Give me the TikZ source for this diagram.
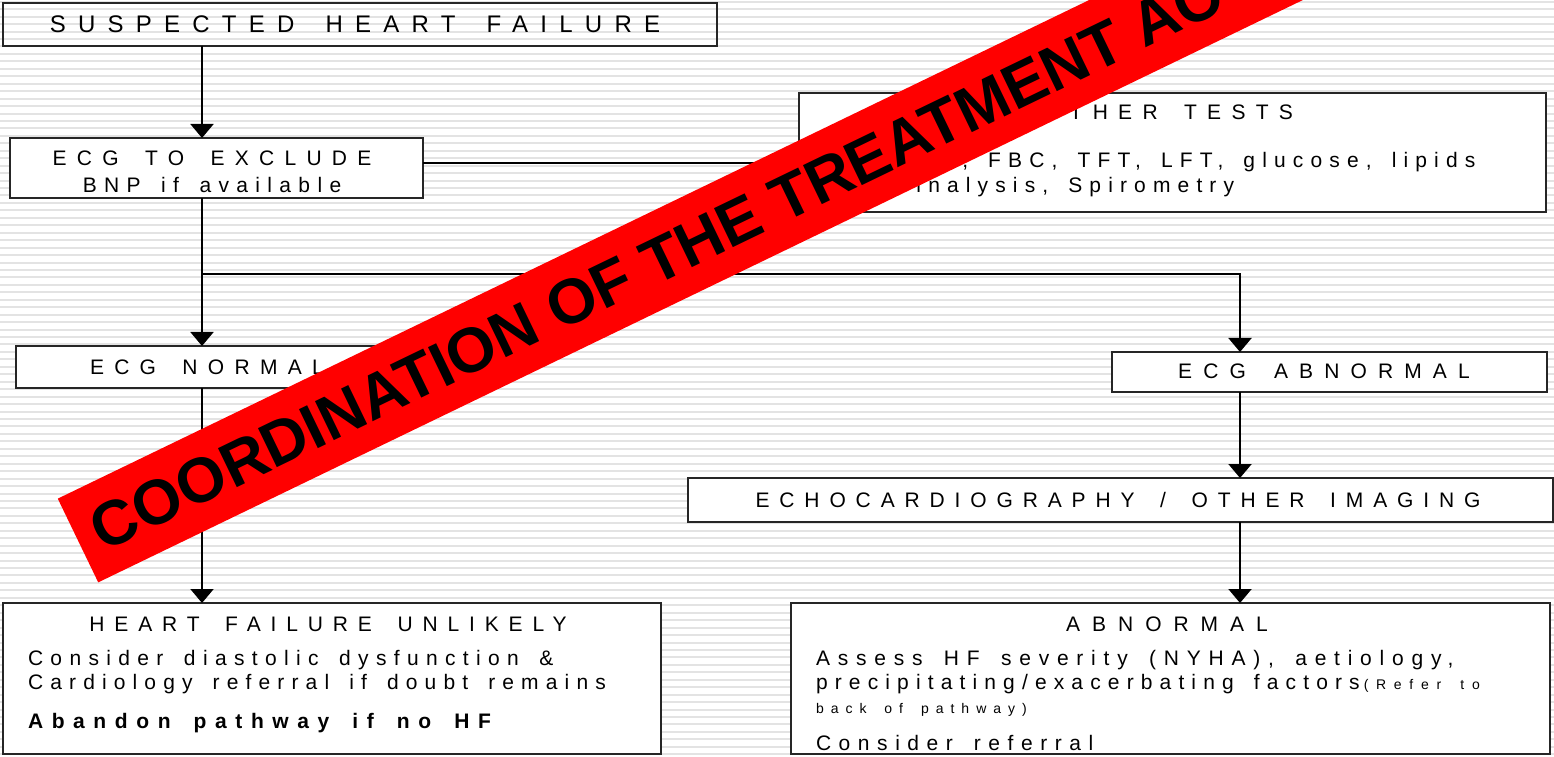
\documentclass[tikz,border=0pt]{standalone}
\usepackage{fontspec}
\setmainfont{Liberation Sans}
\usetikzlibrary{arrows.meta}
\newcommand\LS[2]{{\addfontfeature{LetterSpace=#1}\spaceskip=\dimexpr\fontdimen2\font+#1em/100\relax #2}}
\tikzset{
  box/.style={draw=black!85, line width=1.5pt, fill=white, inner sep=0pt, outer sep=0pt},
  conn/.style={line width=2pt, draw=black},
  arr/.style={conn, -{Triangle[width=23pt,length=14pt]}},
  txt/.style={inner sep=0pt, outer sep=0pt, font=\fontsize{21}{25}\selectfont},
  stripe/.style={line width=2pt, draw=black!11},
}
\begin{document}
\begin{tikzpicture}[x=1pt,y=1pt]
\useasboundingbox (0,0) rectangle (1554,756);
\clip (0,0) rectangle (1554,756);
\fill[white] (0,0) rectangle (1554,756);
\foreach \k in {0,...,101} \draw[stripe] (0,{756-1.8-7.45*\k}) -- (1554,{756-1.8-7.45*\k});

% boxes
\node[box, fill=none, minimum width=714pt, minimum height=43pt] (s) at (360,731.5) {};
\node[txt, anchor=base, font=\fontsize{24}{28}\selectfont] (s1) at (355,723) {\LS{51}{SUSPECTED HEART FAILURE}};

\node[box, minimum width=413pt, minimum height=60pt] (e) at (216.5,588) {};
\node[txt, anchor=base] (e1) at (212,590) {\LS{49}{ECG TO EXCLUDE}};
\node[txt, anchor=base] (e2) at (212,563) {\LS{35}{BNP if available}};

\node[box, minimum width=747pt, minimum height=119pt] (o) at (1172.5,603.5) {};
\node[txt, anchor=base] (o1) at (1168,636.5) {\LS{49}{OTHER TESTS}};
\node[txt, anchor=base west] (o2) at (880,588.5) {\LS{34}{U\&Es, FBC, TFT, LFT, glucose, lipids}};
\node[txt, anchor=base west] (o3) at (880,563.5) {\LS{34}{Urinalysis, Spirometry}};

\node[box, minimum width=388pt, minimum height=42pt] (n) at (210,389) {};
\node[txt, anchor=base west] (n1) at (90,381.5) {\LS{49}{ECG NORMAL}};
\node[box, minimum width=435pt, minimum height=40pt] (a) at (1329.5,384) {};
\node[txt, anchor=base] (a1) at (1324,378) {\LS{53}{ECG ABNORMAL}};
\node[box, minimum width=865pt, minimum height=44pt] (h) at (1120.5,256) {};
\node[txt, anchor=base] (h1) at (1118,248.5) {\LS{47}{ECHOCARDIOGRAPHY / OTHER IMAGING}};

\node[box, minimum width=658pt, minimum height=151pt] (u) at (332,77.5) {};
\node[txt, anchor=base] (u1) at (328,125) {\LS{47}{HEART FAILURE UNLIKELY}};
\node[txt, anchor=base west] (u2) at (28,91) {\LS{35}{Consider diastolic dysfunction \&}};
\node[txt, anchor=base west] (u3) at (28,67) {\LS{34}{Cardiology referral if doubt remains}};
\node[txt, anchor=base west, font=\fontsize{21}{25}\selectfont\bfseries] (u4) at (28,28) {\LS{41}{Abandon pathway if no HF}};

\node[box, minimum width=759pt, minimum height=151pt] (b) at (1170.5,77.5) {};
\node[txt, anchor=base] (b1) at (1167,125) {\LS{57}{ABNORMAL}};
\node[txt, anchor=base west] (b2) at (816,91) {\LS{37}{Assess HF severity (NYHA), aetiology,}};
\node[txt, anchor=base west] (b3) at (816,67) {\LS{34}{precipitating/exacerbating factors}\hspace{4pt}{\fontsize{14}{16}\selectfont\LS{55}{(Refer to}}};
\node[txt, anchor=base west, font=\fontsize{14}{16}\selectfont] (b4) at (816,43) {\LS{50}{back of pathway)}};
\node[txt, anchor=base west] (b5) at (816,6) {\LS{36}{Consider referral}};

% connectors
\coordinate (cl) at (202,0);
\coordinate (cr) at (1240,0);
\coordinate (br) at (202,482);
\draw[arr] (s.south -| cl) -- (e.north -| cl);
\draw[conn] ([yshift=5pt]e.east) -- ([yshift=5pt]e.east -| o.west);
\draw[arr] (e.south -| cl) -- (n.north -| cl);
\draw[arr] (br) -| (a.north -| cr);
\draw[arr] (n.south -| cl) -- (u.north -| cl);
\draw[arr] (a.south -| cr) -- (h.north -| cr);
\draw[arr] (h.south -| cr) -- (b.north -| cr);

% banner
\begin{scope}[shift={(78,215.5)}, rotate=25.8]
\fill[red] (0,-46.5) rectangle (2000,46.5);
\node[anchor=west, inner sep=0pt, transform shape, font=\fontsize{63}{70}\selectfont\bfseries] (ban) at (18,0) {COORDINATION OF THE TREATMENT AC};
\end{scope}
\end{tikzpicture}
\end{document}
